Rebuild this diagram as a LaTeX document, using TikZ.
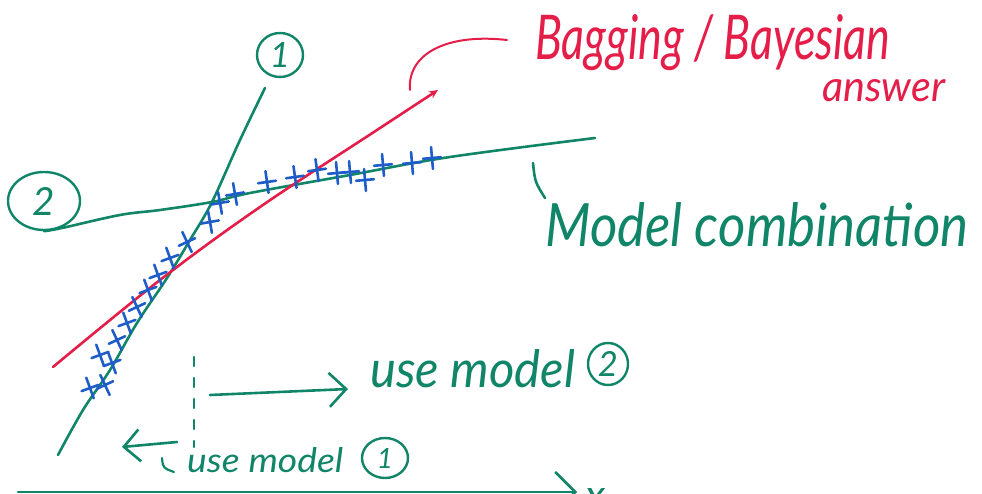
\documentclass[tikz,border=0pt]{standalone}
\usepackage{graphicx}
\usepackage{fontspec}
\setmainfont{Lato}
\usetikzlibrary{arrows.meta,shapes.geometric}

\definecolor{penGreen}{RGB}{16,133,104}
\definecolor{penRed}{RGB}{228,30,72}
\definecolor{penBlue}{RGB}{30,92,200}

\tikzset{
  pen/.style={line width=2.6pt, line cap=round, line join=round},
  greenpen/.style={pen, draw=penGreen},
  redpen/.style={pen, draw=penRed},
  bluepen/.style={line width=2.6pt, line cap=round, draw=penBlue},
  lbl/.style={anchor=base west, inner sep=0pt, font=\itshape},
  ring/.style={draw=penGreen, line width=2.4pt, ellipse, inner sep=0pt,
               text=penGreen, font=\itshape},
  barb/.style={-{Straight Barb[length=#1, width=2*#1]}},
}

\begin{document}
\begin{tikzpicture}[x=1pt, y=-1pt]
  \useasboundingbox (0,0) rectangle (982,494);

  % circled model numbers
  \node[ring, minimum width=46pt, minimum height=44pt] (m1) at (280,55) {\resizebox{!}{25pt}{1}};
  \node[ring, minimum width=72pt, minimum height=58pt] (m2) at (44,201) {\resizebox{!}{28pt}{2}};

  % model 1: the steep line
  \coordinate (l1a) at (265,88);
  \coordinate (l1b) at (58,455);
  \draw[greenpen] plot[smooth, tension=0.6] coordinates
    {(l1a) (240,140) (212,202) (190,240) (167,278) (137,323) (110,370) (83,410) (l1b)};

  % model 2: the flat line, leaving its circle
  \coordinate (l2b) at (595,138);
  \draw[greenpen] plot[smooth, tension=0.6] coordinates
    {(m2.south) (62,228) (120,215) (160,210) (212,202) (250,193) (350,175) (450,157) (l2b)};

  % combined fit
  \coordinate (rfa) at (53,367);
  \coordinate (rfb) at (438,90);
  \draw[redpen, -{Stealth[length=9pt, width=8pt]}] plot[smooth, tension=0.6] coordinates
    {(rfa) (160,280) (260,207) (377,130) (rfb)};

  % data points
  \foreach \px/\py/\a in {
      90/388/-20, 105/385/-25, 100/355/-20, 112/363/-20, 117/340/-25,
      127/323/-20, 137/307/-25, 148/290/-20, 158/275/-20, 170/258/-20,
      187/242/-25, 210/222/-10, 220/203/-10, 235/194/-10, 267/182/-8,
      295/177/-8, 317/170/-8, 337/173/-5, 350/172/-5, 365/180/-5,
      383/165/-5, 412/163/-5, 432/158/-5}
    \draw[bluepen] (\px,\py) ++(\a:9) -- ++(\a+180:18)
                   (\px,\py) ++(\a+90:11) -- ++(\a+270:22);

  % labels
  \node[lbl, text=penRed] (bag) at (535,60) {\resizebox{355pt}{45pt}{Bagging / Bayesian}};
  \node[lbl, text=penRed] (ans) at (822,102) {\resizebox{123pt}{22pt}{answer}};
  \coordinate (cla) at (410,90);
  \coordinate (clb) at (507,40);
  \draw[redpen, line width=2pt] (cla) .. controls (407,55) and (445,33) .. (clb);

  \node[lbl, text=penGreen] (comb) at (545,247) {\resizebox{423pt}{44pt}{Model combination}};
  \coordinate (tka) at (533,163);
  \coordinate (tkb) at (545,198);
  \draw[greenpen] (tka) .. controls (535,182) .. (tkb);

  % split point and regions
  \coordinate (sp0) at (194,357);
  \coordinate (sp1) at (194,447);
  \draw[greenpen, line width=2.2pt, dash pattern=on 9pt off 12pt] (sp0) -- (sp1);

  \coordinate (ra0) at (210,395);
  \coordinate (ra1) at (348,389);
  \draw[greenpen, barb=17pt] (ra0) -- (ra1);
  \node[lbl, text=penGreen] (u2) at (370,387) {\resizebox{205pt}{38pt}{use model}};
  \node[ring, minimum width=40pt, minimum height=42pt] (s2) at (608,364) {\resizebox{!}{25pt}{2}};

  \coordinate (la0) at (177,442);
  \coordinate (la1) at (122,447);
  \draw[greenpen, barb=16pt] (la0) -- (la1);
  \coordinate (sk0) at (162,458);
  \coordinate (sk1) at (174,472);
  \draw[greenpen, line width=2.2pt] (sk0) .. controls (163,468) .. (sk1);
  \node[lbl, text=penGreen] (u1) at (187,472) {\resizebox{156pt}{25pt}{use model}};
  \node[ring, minimum width=46pt, minimum height=40pt] (s1) at (385,458) {\resizebox{!}{20pt}{1}};

  % input axis
  \coordinate (ax0) at (18,492);
  \coordinate (ax1) at (577,492);
  \draw[greenpen, barb=20pt] (ax0) -- (ax1);
  \node[anchor=base, inner sep=0pt, text=penGreen, font=\itshape] (xl) at (596,510) {\resizebox{!}{22pt}{x}};
\end{tikzpicture}
\end{document}
